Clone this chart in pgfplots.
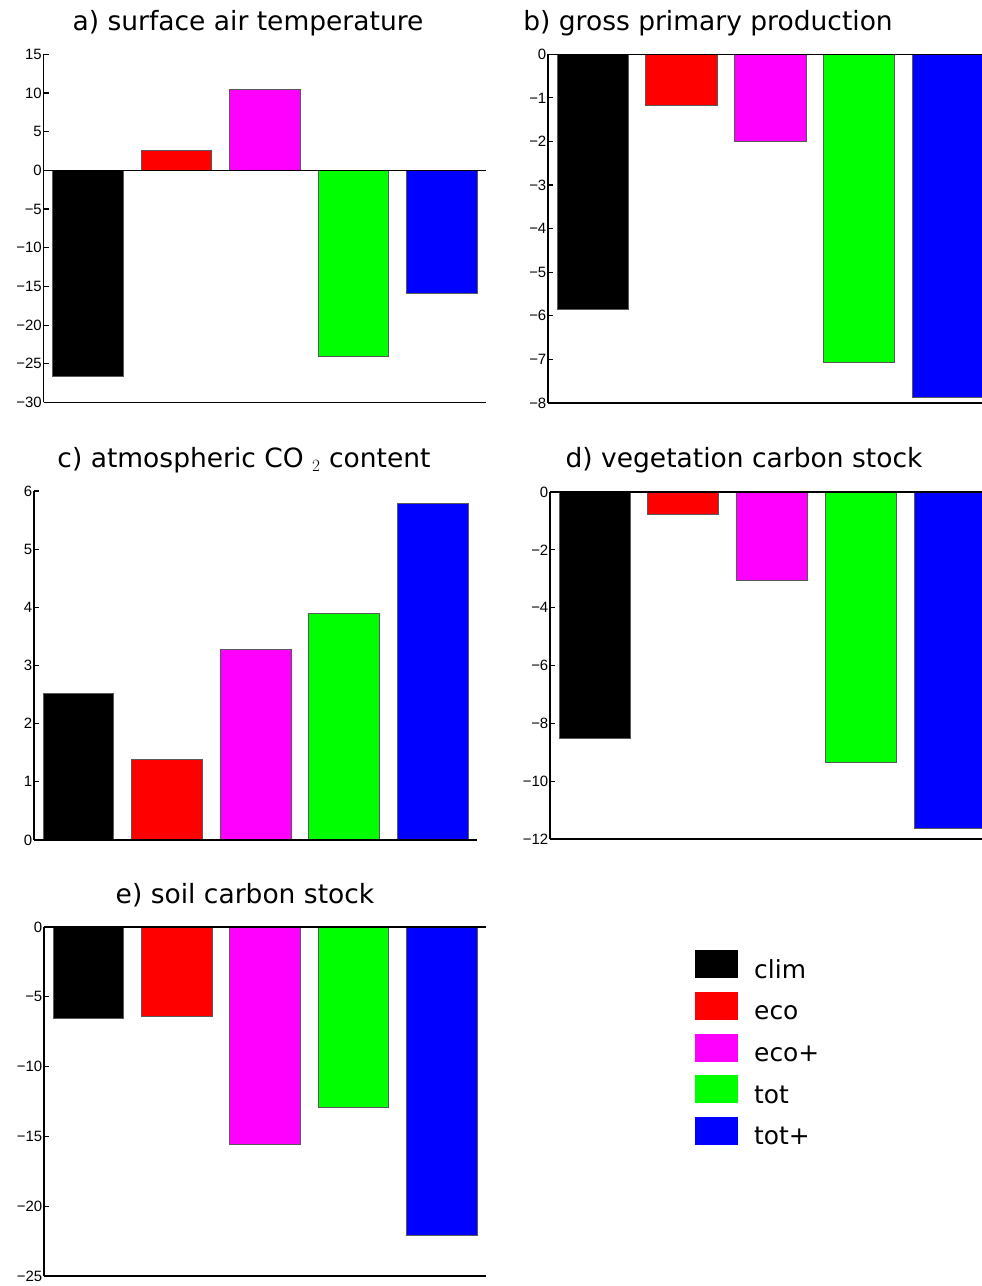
\documentclass[border=0pt]{standalone}
\usepackage{fontspec}
\setmainfont{DejaVu Sans}
\newfontfamily\tickfont{Liberation Sans}
\newfontfamily\titlefont{DejaVu Sans}
\usepackage{pgfplots}
\pgfplotsset{compat=1.18}
\definecolor{cgreen}{RGB}{0,255,0}
\definecolor{cmag}{RGB}{255,0,255}
\definecolor{cblue}{RGB}{0,0,255}
\definecolor{cred}{RGB}{255,0,0}
\pgfplotsset{
  panel/.style={
    scale only axis, anchor=south west,
    xmin=0.5, xmax=5.5,
    axis lines*=left,
    xtick=\empty,
    tick align=inside,
    major tick length=5bp,
    axis line style={line width=1.6bp},
    every tick/.style={black, line width=1.2bp},
    yticklabel style={font=\fontsize{15}{17}\tickfont, inner sep=1.5bp},
    ybar, bar width=0.8,
    clip=true,
  },
  barc/.style={fill=#1, draw=black!65, line width=0.6bp, bar shift=0pt},
}
\newcommand{\zeroline}{\draw[line width=1.4bp] ({rel axis cs:0,0}|-{axis cs:1,0}) -- ({rel axis cs:1,0}|-{axis cs:1,0});}
\begin{document}
\begin{tikzpicture}
\useasboundingbox (0bp,0bp) rectangle (982bp,1286bp);
% titles
\node[anchor=base, font=\fontsize{26.6}{30}\titlefont] at (248bp,1255bp) {a) surface air temperature};
\node[anchor=base, font=\fontsize{26.6}{30}\titlefont] at (708bp,1255bp) {b) gross primary production};
\node[anchor=base, font=\fontsize{26.6}{30}\titlefont] at (244bp,818bp) {c) atmospheric CO $_{2}$ content};
\node[anchor=base, font=\fontsize{26.6}{30}\titlefont] at (744bp,818bp) {d) vegetation carbon stock};
\node[anchor=base, font=\fontsize{26.6}{30}\titlefont] at (245bp,382bp) {e) soil carbon stock};

% a
\begin{axis}[panel, at={(43.5bp,883.5bp)}, width=442.5bp, height=348.2bp,
  ymin=-30, ymax=15, ytick={-30,-25,...,15},
  yticklabels={−30,−25,−20,−15,−10,−5,0,5,10,15}]
\addplot[barc=black] coordinates {(1,-26.6)};
\addplot[barc=cred] coordinates {(2,2.6)};
\addplot[barc=cmag] coordinates {(3,10.5)};
\addplot[barc=cgreen] coordinates {(4,-24.0)};
\addplot[barc=cblue] coordinates {(5,-15.95)};
\zeroline
\end{axis}

% b
\begin{axis}[panel, at={(548bp,883bp)}, width=444.5bp, height=348.7bp,
  ymin=-8, ymax=0, ytick={-8,-7,...,0},
  yticklabels={−8,−7,−6,−5,−4,−3,−2,−1,0}]
\addplot[barc=black] coordinates {(1,-5.86)};
\addplot[barc=cred] coordinates {(2,-1.16)};
\addplot[barc=cmag] coordinates {(3,-1.99)};
\addplot[barc=cgreen] coordinates {(4,-7.06)};
\addplot[barc=cblue] coordinates {(5,-7.88)};
\zeroline
\end{axis}

% c
\begin{axis}[panel, at={(34bp,446bp)}, width=443bp, height=349bp,
  ymin=0, ymax=6, ytick={0,1,...,6},
  yticklabels={0,1,2,3,4,5,6}]
\addplot[barc=black] coordinates {(1,2.53)};
\addplot[barc=cred] coordinates {(2,1.39)};
\addplot[barc=cmag] coordinates {(3,3.28)};
\addplot[barc=cgreen] coordinates {(4,3.90)};
\addplot[barc=cblue] coordinates {(5,5.79)};
\zeroline
\end{axis}

% d
\begin{axis}[panel, at={(550bp,447bp)}, width=444bp, height=347bp,
  ymin=-12, ymax=0, ytick={-12,-10,...,0},
  yticklabels={−12,−10,−8,−6,−4,−2,0}]
\addplot[barc=black] coordinates {(1,-8.51)};
\addplot[barc=cred] coordinates {(2,-0.78)};
\addplot[barc=cmag] coordinates {(3,-3.06)};
\addplot[barc=cgreen] coordinates {(4,-9.34)};
\addplot[barc=cblue] coordinates {(5,-11.62)};
\zeroline
\end{axis}

% e
\begin{axis}[panel, at={(44bp,10bp)}, width=442bp, height=349bp,
  ymin=-25, ymax=0, ytick={-25,-20,...,0},
  yticklabels={−25,−20,−15,−10,−5,0},
  legend image code/.code={\path[#1,draw=none] (0bp,0bp) rectangle (43bp,28bp);},
  legend style={draw=none, fill=none, inner sep=0pt, at={(axis description cs:1.4729,0.9341)}, anchor=north west,
    row sep=13.7bp, column sep=16bp,
    nodes={inner sep=0pt, anchor=base west, text depth=0pt, font=\fontsize{25}{28}\titlefont}},
  legend cell align=left]
\addplot[barc=black] coordinates {(1,-6.52)};
\addplot[barc=cred] coordinates {(2,-6.38)};
\addplot[barc=cmag] coordinates {(3,-15.54)};
\addplot[barc=cgreen] coordinates {(4,-12.89)};
\addplot[barc=cblue] coordinates {(5,-22.06)};
\zeroline
\legend{clim,eco,eco+,tot,tot+}
\end{axis}
\end{tikzpicture}
\end{document}
